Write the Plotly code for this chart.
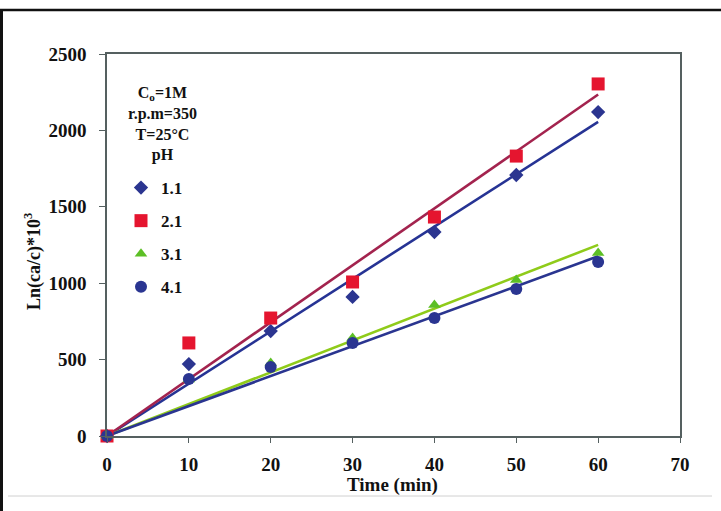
import numpy as np
import plotly.graph_objects as go

# ---- data ----
time_min = [0, 10, 20, 30, 40, 50, 60]
ph_labels = ["1.1", "2.1", "3.1", "4.1"]
ph_1_1 = [0, 471, 687, 910, 1335, 1708, 2120]
ph_2_1 = [0, 609, 772, 1008, 1433, 1832, 2304]
ph_3_1 = [0, 370, 478, 641, 857, 1021, 1198]
ph_4_1 = [0, 373, 451, 609, 772, 962, 1139]
x_ticks = [0, 10, 20, 30, 40, 50, 60, 70]
y_ticks = [0, 500, 1000, 1500, 2000, 2500]

series = [ph_1_1, ph_2_1, ph_3_1, ph_4_1]
marker_colors = ["#2B3590", "#E5152F", "#5CBF25", "#2A3591"]
line_colors = ["#263394", "#A3234E", "#8FCB1A", "#2A3590"]
symbols = ["diamond", "square", "triangle-up", "circle"]
sizes = [11, 13, 11, 12]

W, H = 721, 511
L, R, T, B = 107, 41, 54, 75
pw, ph = W - L - R, H - T - B
def px(xp):
    return (xp - L) / pw
def py(yp):
    return (H - B - yp) / ph

FONT = "Liberation Serif"

fig = go.Figure()
t = np.array(time_min, dtype=float)
# trend lines through origin (least squares)
for ys, lc in zip(series, line_colors):
    y = np.array(ys, dtype=float)
    k = (t * y).sum() / (t * t).sum()
    xs = [t.min(), t.max()]
    fig.add_trace(go.Scatter(x=xs, y=[k * v for v in xs], mode="lines",
                             line=dict(color=lc, width=2.6), showlegend=False,
                             hoverinfo="skip"))
for i, (ys, mc, sym, sz, lab) in enumerate(zip(series, marker_colors, symbols, sizes, ph_labels)):
    fig.add_trace(go.Scatter(x=time_min, y=ys, mode="markers", name="<b>" + lab + "</b>",
                             legendgroup="g%d" % i,
                             marker=dict(color=mc, symbol=sym, size=sz, line=dict(width=0)),
                             cliponaxis=False))

axis_common = dict(showgrid=False, zeroline=False, showline=True, linecolor="#556060",
                   linewidth=1.5, mirror=True, ticks="outside", tickcolor="#556060",
                   tickwidth=1.2,
                   tickfont=dict(family=FONT, size=19, color="#111", weight="bold"))
fig.update_xaxes(range=[0, 70], tickvals=x_ticks, ticklen=5, ticklabelstandoff=5, **axis_common)
fig.update_yaxes(range=[0, 2500], tickvals=y_ticks, ticklen=6, ticklabelstandoff=9, **axis_common)

fig.update_layout(
    width=W, height=H,
    margin=dict(l=L, r=R, t=T, b=B),
    paper_bgcolor="white", plot_bgcolor="white",
    showlegend=True,
    legend=dict(x=px(121), y=py(170), xanchor="left", yanchor="top",
                bgcolor="rgba(0,0,0,0)", tracegroupgap=8, itemwidth=30,
                font=dict(family=FONT, size=17, color="#111")),
    annotations=[
        dict(text="<b>C<sub>o</sub>=1M<br>r.p.m=350<br>T=25°C<br>pH</b>",
             x=px(162), y=py(82), xref="paper", yref="paper", xanchor="center",
             yanchor="top", showarrow=False, align="center",
             font=dict(family=FONT, size=16, color="#111")),
        dict(text="<b>Time (min)</b>", x=px(392), y=py(485), xref="paper", yref="paper",
             xanchor="center", yanchor="middle", showarrow=False,
             font=dict(family=FONT, size=19, color="#111")),
        dict(text="<b>Ln(ca/c)*10<sup>3</sup></b>", x=px(33), y=py(262), xref="paper",
             yref="paper", xanchor="center", yanchor="middle", textangle=-90,
             showarrow=False, font=dict(family=FONT, size=18, color="#111")),
    ],
    shapes=[
        dict(type="line", xref="paper", yref="paper", x0=px(0), x1=px(721),
             y0=py(10), y1=py(10), line=dict(color="#111", width=2.5)),
        dict(type="line", xref="paper", yref="paper", x0=px(1.5), x1=px(1.5),
             y0=py(10), y1=py(511), line=dict(color="#111", width=3)),
        dict(type="line", xref="paper", yref="paper", x0=px(8), x1=px(712),
             y0=py(496), y1=py(496), line=dict(color="#d0d0d0", width=1)),
    ],
)

fig.write_html("out.html", config={"displayModeBar": False},
               post_script="document.body.style.margin='0';document.body.style.overflow='hidden';")
